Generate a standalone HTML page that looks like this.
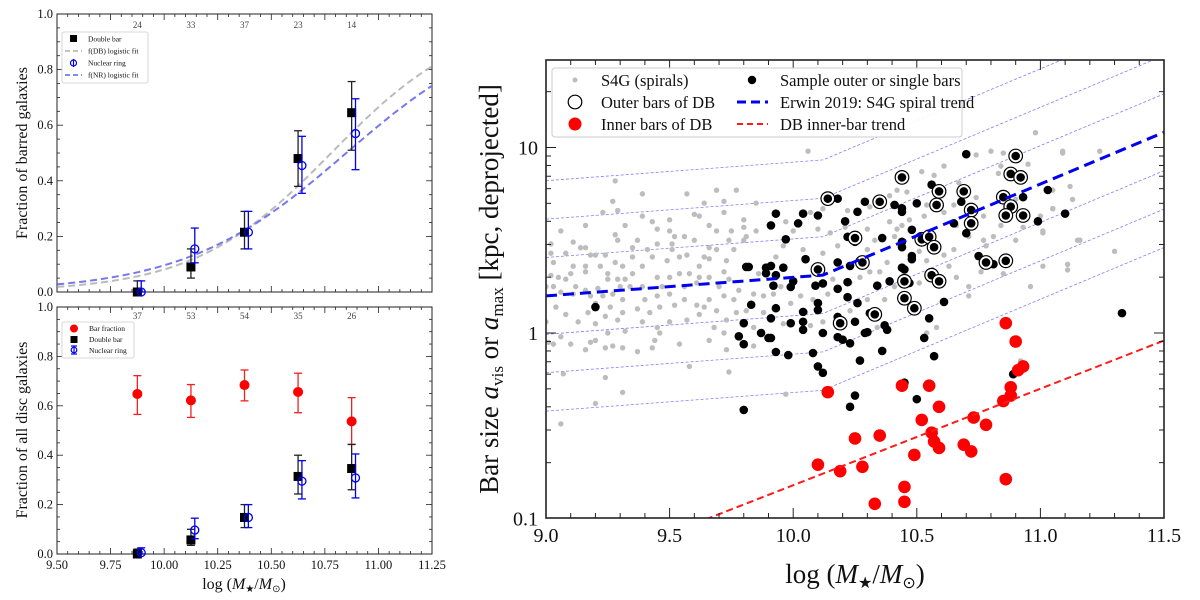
<!DOCTYPE html>
<html><head><meta charset="utf-8"><style>
html,body{margin:0;padding:0;background:#fff;}
svg{display:block;font-family:"Liberation Serif",serif;}
</style></head><body>
<svg id="fig" width="1200" height="600" viewBox="0 0 1200 600" xmlns="http://www.w3.org/2000/svg">
<defs>
<clipPath id="clipR"><rect x="546" y="60" width="618" height="458"/></clipPath>
<clipPath id="clipA"><rect x="57" y="14" width="375" height="278"/></clipPath>
</defs>
<g id="panelA"></g>
<g id="panelB"></g>
<g id="panelC"></g>
</svg>
<script>
// ---------- Left panels data ----------
const binCenters = [9.875, 10.125, 10.375, 10.625, 10.875];
const countsTop = ["24","33","37","23","14"];
const countsBottom = ["37","53","54","35","26"];
const dbTop = [0.0, 0.09, 0.215, 0.48, 0.645];
const dbTopLo = [0.0, 0.05, 0.155, 0.38, 0.51];
const dbTopHi = [0.04, 0.155, 0.29, 0.58, 0.757];
const nrTop = [0.0, 0.155, 0.215, 0.455, 0.57];
const nrTopLo = [0.0, 0.105, 0.155, 0.355, 0.44];
const nrTopHi = [0.04, 0.23, 0.29, 0.56, 0.695];
const dbFitParams = [3.11, 10.78];
const nrFitParams = [2.64, 10.85];
const barFrac = [0.648, 0.622, 0.684, 0.656, 0.537];
const barFracLo = [0.565, 0.553, 0.62, 0.572, 0.443];
const barFracHi = [0.722, 0.686, 0.745, 0.732, 0.633];
const dbBot = [0.0, 0.057, 0.148, 0.314, 0.346];
const dbBotLo = [0.0, 0.035, 0.107, 0.243, 0.26];
const dbBotHi = [0.02, 0.1, 0.2, 0.4, 0.444];
const nrBot = [0.005, 0.097, 0.148, 0.295, 0.308];
const nrBotLo = [0.0, 0.062, 0.107, 0.223, 0.227];
const nrBotHi = [0.025, 0.145, 0.2, 0.378, 0.405];
const xTickLabelsLeft = ["9.50","9.75","10.00","10.25","10.50","10.75","11.00","11.25"];
const yTickLabelsLeft = ["0.0","0.2","0.4","0.6","0.8","1.0"];

// ---------- Right panel data ----------
const innerX = [10.86,10.90,10.93,10.91,10.88,10.88,10.85,10.14,10.44,10.55,10.59,10.52,10.73,10.78,10.56,10.57,10.59,10.69,10.72,10.25,10.35,10.49,10.10,10.19,10.28,10.45,10.45,10.33,10.86];
const innerA = [1.13,0.9,0.66,0.63,0.51,0.46,0.43,0.48,0.52,0.52,0.40,0.34,0.35,0.32,0.29,0.26,0.24,0.25,0.23,0.27,0.28,0.22,0.195,0.18,0.19,0.148,0.123,0.12,0.163];
const outerX = [10.90,10.88,10.92,10.44,10.59,10.69,10.58,10.85,10.88,10.86,10.93,10.14,10.35,10.72,10.72,10.25,10.52,10.55,10.57,10.78,10.86,10.28,10.10,10.45,10.56,10.59,10.45,10.49,10.19,10.33];
const outerA = [9.0,7.2,6.9,6.9,5.8,5.8,4.9,5.4,4.8,4.3,4.3,5.3,5.1,4.6,3.9,3.25,3.2,3.3,2.9,2.4,2.45,2.4,2.2,1.9,2.05,1.9,1.54,1.36,1.13,1.26];
const singleX = [10.70,11.03,11.10,10.99,10.93,10.56,10.68,10.50,10.41,10.44,10.44,10.29,10.18,10.26,10.21,10.10,10.04,10.02,9.93,9.91,9.97,10.22,10.25,10.36,10.48,10.44,10.44,10.65,10.70,10.75,10.81,10.05,10.18,10.23,9.91,9.96,9.93,9.92,9.99,10.0,10.09,10.12,10.18,10.22,10.34,10.39,10.48,10.48,10.44,10.45,10.47,10.22,10.26,10.10,10.10,10.04,9.93,9.91,10.04,9.99,10.12,10.18,10.25,10.31,10.37,10.38,10.30,10.55,10.61,10.18,10.04,10.20,10.23,10.29,9.93,9.98,10.08,10.36,10.27,10.53,10.57,10.10,10.12,10.45,10.50,10.25,10.23,10.89,9.91,11.33,9.20,9.81,9.82,9.89,9.89,9.83,9.80,9.78,9.80,9.87,9.90,9.80];
const singleA = [9.2,5.9,4.4,4.0,5.4,6.3,5.1,5.0,4.9,4.7,4.5,5.1,5.3,4.5,4.0,4.3,4.4,3.9,4.4,3.8,3.2,3.3,3.1,3.25,3.6,2.9,3.1,3.9,3.45,2.6,2.35,2.5,2.4,2.3,2.3,2.25,2.05,1.8,1.77,1.9,1.8,1.85,1.73,1.88,1.8,1.9,2.6,2.5,2.25,2.2,1.86,1.56,1.45,1.45,1.33,1.3,1.36,1.2,1.15,1.13,1.0,1.22,1.15,1.28,1.1,1.04,1.01,1.2,1.47,0.95,1.04,0.92,0.88,1.0,0.79,0.76,0.78,0.8,0.71,0.94,0.75,0.66,0.61,0.54,0.44,0.46,0.4,0.6,0.94,1.28,1.38,2.27,2.27,2.25,2.1,1.42,1.13,0.96,0.87,1.0,0.94,0.385];
const s4gX = [9.28,9.27,9.29,9.23,9.32,9.16,9.06,9.02,9.11,9.14,9.18,9.20,9.24,9.29,9.28,9.22,9.25,9.16,9.16,9.10,9.05,9.02,9.03,9.08,9.12,9.11,9.16,9.18,9.21,9.25,9.28,9.31,9.35,9.37,9.39,9.39,9.43,9.45,9.50,9.50,9.52,9.56,9.57,9.60,9.62,9.64,9.66,9.69,9.69,9.72,9.72,9.77,9.80,9.80,9.85,9.85,9.81,9.76,9.73,9.72,9.66,9.62,9.57,9.51,9.49,9.43,9.39,9.35,9.32,9.30,9.27,9.23,9.20,9.26,9.31,9.37,9.40,9.45,9.50,9.56,9.61,9.66,9.70,9.74,9.78,9.76,9.72,9.66,9.61,9.56,9.52,9.46,9.42,9.39,9.45,9.50,9.57,9.64,9.69,9.73,9.77,9.72,9.68,9.62,9.81,9.84,9.86,9.88,9.46,9.44,9.54,9.43,9.37,9.31,9.27,9.24,9.18,9.16,9.10,9.06,9.03,9.01,9.08,9.13,9.17,9.20,9.24,9.29,9.32,9.25,9.20,9.04,9.00,9.02,9.08,9.31,9.58,9.74,9.24,9.31,9.20,9.06,9.07,9.00,9.03,9.06,9.11,9.16,9.35,9.41,9.45,9.51,9.54,9.60,9.66,9.64,9.69,9.74,9.75,9.80,9.45,9.50,9.54,9.58,9.62,9.47,9.39,9.34,9.29,9.73,9.66,9.84,9.88,9.97,9.84,9.91,
10.06,10.74,10.80,10.85,10.95,11.09,10.61,10.52,10.57,10.67,10.83,10.84,11.12,11.13,11.05,11.01,11.11,11.11,11.15,10.42,10.46,10.39,10.31,10.22,10.12,10.07,9.97,10.00,10.15,10.10,10.21,10.30,10.39,10.42,10.41,10.33,10.30,10.18,10.12,10.04,9.96,9.93,10.54,10.61,10.65,10.66,10.71,10.77,10.81,10.84,10.77,10.65,10.61,10.63,10.54,10.51,10.38,10.35,10.31,10.27,10.23,10.16,10.14,10.08,10.03,9.95,9.92,9.99,10.05,10.23,10.30,10.37,10.41,10.51,10.66,10.71,10.71,10.76,10.85,10.96,11.01,10.78,10.90,10.93,11.00,11.05,10.90,10.74,10.59,10.53,10.47,10.44,10.58,10.54,10.34,10.12,10.07,9.96,11.24,10.98,11.09,11.30,11.11,11.16,11.05,11.01,10.92];
const s4gLogA = [0.82,0.71,0.66,0.65,0.58,0.58,0.55,0.48,0.49,0.46,0.42,0.42,0.42,0.50,0.53,0.36,0.32,0.36,0.33,0.32,0.30,0.31,0.25,0.29,0.25,0.21,0.23,0.20,0.24,0.29,0.38,0.36,0.41,0.50,0.75,0.63,0.60,0.56,0.61,0.55,0.52,0.52,0.75,0.64,0.63,0.70,0.58,0.77,0.55,0.71,0.65,0.77,0.61,0.57,0.70,0.55,0.52,0.45,0.39,0.33,0.40,0.36,0.42,0.45,0.39,0.41,0.36,0.32,0.29,0.25,0.21,0.20,0.16,0.14,0.11,0.13,0.18,0.20,0.21,0.25,0.27,0.30,0.25,0.29,0.23,0.18,0.20,0.18,0.15,0.18,0.15,0.14,0.11,0.06,0.03,0.06,0.07,0.14,0.12,0.07,0.11,0.00,0.03,0.10,0.12,0.21,0.32,0.20,0.00,-0.04,-0.06,-0.08,-0.10,-0.08,-0.07,-0.08,-0.05,-0.09,-0.06,-0.02,-0.06,-0.05,0.10,0.06,0.11,0.05,0.09,0.07,0.01,0.00,-0.04,0.14,0.25,0.43,0.43,0.18,-0.18,-0.21,-0.24,-0.32,-0.38,-0.49,-0.22,0.06,0.38,0.22,0.36,0.46,0.46,0.45,0.48,0.48,0.41,0.50,0.46,0.41,0.45,0.50,0.55,0.50,0.30,0.30,0.32,0.32,0.30,0.25,0.25,0.25,0.29,-0.09,-0.04,0.03,0.11,-0.33,-0.07,0.07,
0.98,0.96,0.98,0.97,0.91,0.97,0.90,0.87,0.85,0.81,0.86,0.90,0.79,0.72,0.67,0.55,0.37,0.34,0.50,0.77,0.76,0.74,0.68,0.66,0.67,0.65,0.60,0.55,0.54,0.56,0.57,0.56,0.60,0.56,0.52,0.50,0.45,0.47,0.43,0.45,0.47,0.41,0.69,0.65,0.69,0.58,0.52,0.50,0.52,0.58,0.63,0.45,0.42,0.36,0.39,0.44,0.38,0.33,0.33,0.30,0.27,0.29,0.21,0.18,0.20,0.25,0.21,0.16,0.11,0.12,0.18,0.18,0.25,0.27,0.30,0.25,0.20,0.33,0.32,0.25,0.36,0.47,0.50,0.57,0.63,0.77,0.72,0.73,0.71,0.63,0.61,0.58,0.03,0.00,0.03,0.06,0.04,0.05,0.98,1.08,0.98,0.44,0.37,0.50,0.67,0.54,-0.15];
const erwinParams = [0.2, 0.1, 0.558, 10.12]; // log a at 9.0, slope below break, slope above, break
const guideOffsets = [-3,-2,-1,1,2,3];
const guideStep = 0.207;
const innerTrendParams = [9.655, 0.52]; // logM where a=0.1, slope
const xTickLabelsRight = ["9.0","9.5","10.0","10.5","11.0","11.5"];
const yTickLabelsRight = ["0.1","1","10"];

const NS = "http://www.w3.org/2000/svg";
function mk(parent, tag, attrs, text){
  const e = document.createElementNS(NS, tag);
  for (const k in attrs) e.setAttribute(k, attrs[k]);
  if (text !== undefined) e.textContent = text;
  parent.appendChild(e);
  return e;
}

// ---------- Left panel builder ----------
const LX0 = 57, LX1 = 432;
function lx(v){ return LX0 + (v - 9.5) / 1.75 * (LX1 - LX0); }

function drawLeftFrame(g, yTop, yBot, showXLabels){
  const ly = v => yBot - v * (yBot - yTop);
  mk(g, "rect", {x:LX0, y:yTop, width:LX1-LX0, height:yBot-yTop, fill:"none", stroke:"#222", "stroke-width":1});
  for (let i = 0; i <= 35; i++){
    const v = 9.5 + i*0.05; const x = lx(v);
    const major = i % 5 === 0; const len = major ? 6 : 3;
    mk(g, "line", {x1:x, y1:yBot, x2:x, y2:yBot-len, stroke:"#222", "stroke-width":0.8});
    mk(g, "line", {x1:x, y1:yTop, x2:x, y2:yTop+len, stroke:"#222", "stroke-width":0.8});
  }
  for (let i = 0; i <= 20; i++){
    const v = i*0.05; const y = ly(v);
    const major = i % 4 === 0; const len = major ? 6 : 3;
    mk(g, "line", {x1:LX0, y1:y, x2:LX0+len, y2:y, stroke:"#222", "stroke-width":0.8});
    mk(g, "line", {x1:LX1, y1:y, x2:LX1-len, y2:y, stroke:"#222", "stroke-width":0.8});
  }
  yTickLabelsLeft.forEach((t, i) => {
    const el = mk(g, "text", {x:LX0-4, y:ly(parseFloat(t))+4, "font-size":12.5, "text-anchor":"end", fill:"#111"}, t);
    
    
  });
  if (showXLabels){
    xTickLabelsLeft.forEach((t) => {
      const el = mk(g, "text", {x:lx(parseFloat(t)), y:yBot+15, "font-size":12.5, "text-anchor":"middle", fill:"#111"}, t);
      
      
    });
  }
  return ly;
}
function errbar(g, x, lo, hi, color, name){
  const e = mk(g, "g", {});
  
  
  mk(e, "line", {x1:x, y1:lo, x2:x, y2:hi, stroke:color, "stroke-width":1.3});
  mk(e, "line", {x1:x-4, y1:lo, x2:x+4, y2:lo, stroke:color, "stroke-width":1.3});
  mk(e, "line", {x1:x-4, y1:hi, x2:x+4, y2:hi, stroke:color, "stroke-width":1.3});
}
function square(g, x, y, name){
  const e = mk(g, "rect", {x:x-4.5, y:y-4.5, width:9, height:9, fill:"#000"});
  
  
}
function ring(g, x, y, name){
  const e = mk(g, "circle", {cx:x, cy:y, r:4, fill:"none", stroke:"#0000ee", "stroke-width":1.3});
  
  
}

// Panel A
const gA = document.getElementById("panelA");
const lyA = drawLeftFrame(gA, 14, 292, false);
countsTop.forEach((c, i) => {
  const el = mk(gA, "text", {x:lx(binCenters[i]), y:28, "font-size":9, "text-anchor":"middle", fill:"#444"}, c);
  
  
});
function fitPath(params){
  let d = "";
  for (let i = 0; i <= 100; i++){
    const v = 9.45 + i * (1.85/100);
    const f = 1/(1+Math.exp(-params[0]*(v-params[1])));
    d += (i?"L":"M") + lx(v).toFixed(1) + "," + lyA(f).toFixed(1);
  }
  return d;
}
const fitG = mk(gA, "g", {"clip-path":"url(#clipA)"});
const fdb = mk(fitG, "path", {d:fitPath(dbFitParams), fill:"none", stroke:"#bbbbbb", "stroke-width":2, "stroke-dasharray":"7,4"});


const fnr = mk(fitG, "path", {d:fitPath(nrFitParams), fill:"none", stroke:"#7777ee", "stroke-width":2, "stroke-dasharray":"7,4"});


binCenters.forEach((b, i) => {
  const x = lx(b);
  errbar(gA, x, lyA(dbTopLo[i]), lyA(dbTopHi[i]), "#222", "db-error-bar");
  square(gA, x, lyA(dbTop[i]), "double-bar-point");
  const x2 = lx(b + 0.018);
  errbar(gA, x2, lyA(nrTopLo[i]), lyA(nrTopHi[i]), "#0000ee", "nr-error-bar");
  ring(gA, x2, lyA(nrTop[i]), "nuclear-ring-point");
});
{
  const lg = mk(gA, "g", {});
  
  
  mk(lg, "rect", {x:62, y:32, width:86, height:51, fill:"#fff", stroke:"#ccc", "stroke-width":0.8, rx:2});
  mk(lg, "rect", {x:70, y:35, width:7, height:7, fill:"#000"});
  mk(lg, "line", {x1:65, y1:51, x2:82, y2:51, stroke:"#bbb", "stroke-width":1.8, "stroke-dasharray":"5,3"});
  mk(lg, "circle", {cx:73.5, cy:63, r:3, fill:"none", stroke:"#0000ee", "stroke-width":1.2});
  mk(lg, "line", {x1:73.5, y1:59, x2:73.5, y2:67, stroke:"#0000ee", "stroke-width":1.2});
  mk(lg, "line", {x1:65, y1:75, x2:82, y2:75, stroke:"#7777ee", "stroke-width":1.8, "stroke-dasharray":"5,3"});
  [["Double bar",41.5],["f(DB) logistic fit",53.5],["Nuclear ring",65.5],["f(NR) logistic fit",77.5]].forEach(t=>{
    const el = mk(lg, "text", {x:88, y:t[1], "font-size":7.5, fill:"#111"}, t[0]);
    
    
  });
}
{
  const t = mk(gA, "text", {x:0, y:0, "font-size":16, "text-anchor":"middle", transform:"translate(27,153) rotate(-90)", fill:"#111"}, "Fraction of barred galaxies");
  
  
}

// Panel B
const gB = document.getElementById("panelB");
const lyB = drawLeftFrame(gB, 307, 554, true);
countsBottom.forEach((c, i) => {
  const el = mk(gB, "text", {x:lx(binCenters[i]), y:319, "font-size":9, "text-anchor":"middle", fill:"#444"}, c);
  
  
});
binCenters.forEach((b, i) => {
  const x = lx(b);
  errbar(gB, x, lyB(barFracLo[i]), lyB(barFracHi[i]), "#ee2222", "bar-fraction-error");
  const c = mk(gB, "circle", {cx:x, cy:lyB(barFrac[i]), r:5, fill:"#ff0000"});
  
  
  errbar(gB, x, lyB(dbBotLo[i]), lyB(dbBotHi[i]), "#222", "db-error-bar");
  square(gB, x, lyB(dbBot[i]), "double-bar-point");
  const x2 = lx(b + 0.018);
  errbar(gB, x2, lyB(nrBotLo[i]), lyB(nrBotHi[i]), "#0000ee", "nr-error-bar");
  ring(gB, x2, lyB(nrBot[i]), "nuclear-ring-point");
});
{
  const lg = mk(gB, "g", {});
  
  
  mk(lg, "rect", {x:62, y:322, width:72, height:36, fill:"#fff", stroke:"#ccc", "stroke-width":0.8, rx:2});
  mk(lg, "circle", {cx:74, cy:328.5, r:4, fill:"#ff0000"});
  mk(lg, "rect", {x:70.5, y:336, width:7, height:7, fill:"#000"});
  mk(lg, "circle", {cx:74, cy:350, r:2.8, fill:"none", stroke:"#0000ee", "stroke-width":1.2});
  mk(lg, "line", {x1:74, y1:346, x2:74, y2:354, stroke:"#0000ee", "stroke-width":1.2});
  mk(lg, "line", {x1:71, y1:346, x2:77, y2:346, stroke:"#0000ee", "stroke-width":1.2});
  mk(lg, "line", {x1:71, y1:354, x2:77, y2:354, stroke:"#0000ee", "stroke-width":1.2});
  [["Bar fraction",331],["Double bar",342],["Nuclear ring",353]].forEach(t=>{
    const el = mk(lg, "text", {x:89, y:t[1], "font-size":7.5, fill:"#111"}, t[0]);
    
    
  });
}
{
  const t = mk(gB, "text", {x:0, y:0, "font-size":16, "text-anchor":"middle", transform:"translate(27,430) rotate(-90)", fill:"#111"}, "Fraction of all disc galaxies");
  
  
  const xt = mk(gB, "text", {x:244, y:589, "font-size":16, "text-anchor":"middle", fill:"#111"});
  
  
  xt.innerHTML = 'log (<tspan font-style="italic">M</tspan><tspan font-size="10" dy="3">★</tspan><tspan dy="-3">/</tspan><tspan font-style="italic">M</tspan><tspan font-size="10" dy="3">⊙</tspan><tspan dy="-3">)</tspan>';
}

// ---------- Right panel ----------
const RX0 = 546, RX1 = 1164, RY0 = 60, RY1 = 518;
function rx(v){ return RX0 + (v - 9.0) / 2.5 * (RX1 - RX0); }
function ryLog(l){ return 333 - l * 185.5; }
function ry(a){ return ryLog(Math.log10(a)); }
const gC = document.getElementById("panelC");
const plotC = mk(gC, "g", {"clip-path":"url(#clipR)"});
function erwinLog(v){
  const p = erwinParams;
  return v < p[3] ? p[0] + p[1]*(v-9) : p[0] + p[1]*(p[3]-9) + p[2]*(v-p[3]);
}
function pathFn(fn){
  let d = "";
  const pts = [9.0, erwinParams[3], 11.5];
  pts.forEach((v,i)=>{ d += (i?"L":"M") + rx(v).toFixed(1) + "," + ryLog(fn(v)).toFixed(1); });
  return d;
}
guideOffsets.forEach(k => {
  const p = mk(plotC, "path", {d:pathFn(v => erwinLog(v) + k*guideStep), fill:"none", stroke:"#7f7fff", "stroke-width":0.8, "stroke-dasharray":"3,2"});
  
  
});
s4gX.forEach((v, i) => {
  const c = mk(plotC, "circle", {cx:rx(v), cy:ryLog(s4gLogA[i]), r:2.7, fill:"#bdbdbd"});
  
  
});
singleX.forEach((v, i) => {
  const c = mk(plotC, "circle", {cx:rx(v), cy:ry(singleA[i]), r:4.3, fill:"#000"});
  
  
});
outerX.forEach((v, i) => {
  const g = mk(plotC, "g", {});
  
  
  mk(g, "circle", {cx:rx(v), cy:ry(outerA[i]), r:6.8, fill:"#fff", stroke:"#000", "stroke-width":1.2});
  mk(g, "circle", {cx:rx(v), cy:ry(outerA[i]), r:4.3, fill:"#000"});
});
innerX.forEach((v, i) => {
  const c = mk(plotC, "circle", {cx:rx(v), cy:ry(innerA[i]), r:6.3, fill:"#ff0000"});
  
  
});
{
  const e = mk(plotC, "path", {d:pathFn(erwinLog), fill:"none", stroke:"#0000ee", "stroke-width":3, "stroke-dasharray":"11,6"});
  
  
  const tp = innerTrendParams;
  const f = v => -1 + tp[1]*(v - tp[0]);
  const r = mk(plotC, "path", {d:"M"+rx(tp[0]-0.05)+","+ryLog(f(tp[0]-0.05))+"L"+rx(11.5)+","+ryLog(f(11.5)), fill:"none", stroke:"#ff1a1a", "stroke-width":2, "stroke-dasharray":"7,4"});
  
  
}
// frame and ticks
mk(gC, "rect", {x:RX0, y:RY0, width:RX1-RX0, height:RY1-RY0, fill:"none", stroke:"#222", "stroke-width":1.6});
for (let i = 0; i <= 25; i++){
  const v = 9.0 + i*0.1; const x = rx(v);
  const major = i % 5 === 0; const len = major ? 10 : 5;
  mk(gC, "line", {x1:x, y1:RY1, x2:x, y2:RY1-len, stroke:"#222", "stroke-width":1});
  mk(gC, "line", {x1:x, y1:RY0, x2:x, y2:RY0+len, stroke:"#222", "stroke-width":1});
}
for (let d = -1; d <= 1; d++){
  for (let m = 1; m <= 9; m++){
    const l = d + Math.log10(m); const y = ryLog(l);
    if (y < RY0 || y > RY1) continue;
    const len = m === 1 ? 10 : 5;
    mk(gC, "line", {x1:RX0, y1:y, x2:RX0+len, y2:y, stroke:"#222", "stroke-width":1});
    mk(gC, "line", {x1:RX1, y1:y, x2:RX1-len, y2:y, stroke:"#222", "stroke-width":1});
  }
}
xTickLabelsRight.forEach(t => {
  const el = mk(gC, "text", {x:rx(parseFloat(t)), y:542, "font-size":20, "text-anchor":"middle", fill:"#111"}, t);
  
  
});
yTickLabelsRight.forEach(t => {
  const el = mk(gC, "text", {x:RX0-8, y:ry(parseFloat(t))+7, "font-size":20, "text-anchor":"end", fill:"#111"}, t);
  
  
});
{
  const xt = mk(gC, "text", {x:855, y:583, "font-size":27, "text-anchor":"middle", fill:"#111"});
  
  
  xt.innerHTML = 'log (<tspan font-style="italic">M</tspan><tspan font-size="16" dy="5">★</tspan><tspan dy="-5">/</tspan><tspan font-style="italic">M</tspan><tspan font-size="16" dy="5">⊙</tspan><tspan dy="-5">)</tspan>';
  const yt = mk(gC, "text", {x:0, y:0, "font-size":27, "text-anchor":"middle", transform:"translate(498,289) rotate(-90)", fill:"#111"});
  
  
  yt.innerHTML = 'Bar size <tspan font-style="italic">a</tspan><tspan font-size="17" dy="5">vis</tspan><tspan dy="-5"> or </tspan><tspan font-style="italic">a</tspan><tspan font-size="17" dy="5">max</tspan><tspan dy="-5"> [kpc, deprojected]</tspan>';
}
{
  const lg = mk(gC, "g", {});
  
  
  mk(lg, "rect", {x:552, y:68, width:410, height:69, fill:"#fff", "fill-opacity":0.92, stroke:"#ccc", "stroke-width":1, rx:3});
  mk(lg, "circle", {cx:575, cy:80, r:2.5, fill:"#bdbdbd"});
  mk(lg, "circle", {cx:575, cy:102, r:6.8, fill:"#fff", stroke:"#000", "stroke-width":1.2});
  mk(lg, "circle", {cx:575, cy:124, r:6.5, fill:"#ff0000"});
  mk(lg, "circle", {cx:752, cy:80, r:4.2, fill:"#000"});
  mk(lg, "line", {x1:737, y1:102, x2:768, y2:102, stroke:"#0000ee", "stroke-width":3, "stroke-dasharray":"9,5"});
  mk(lg, "line", {x1:737, y1:124, x2:768, y2:124, stroke:"#ff1a1a", "stroke-width":2, "stroke-dasharray":"6,4"});
  [["S4G (spirals)",601,86],["Outer bars of DB",601,108],["Inner bars of DB",601,130],["Sample outer or single bars",780,86],["Erwin 2019: S4G spiral trend",780,108],["DB inner-bar trend",780,130]].forEach(t=>{
    const el = mk(lg, "text", {x:t[1], y:t[2], "font-size":16.5, fill:"#111"}, t[0]);
    
    
  });
}
</script>
</body></html>
